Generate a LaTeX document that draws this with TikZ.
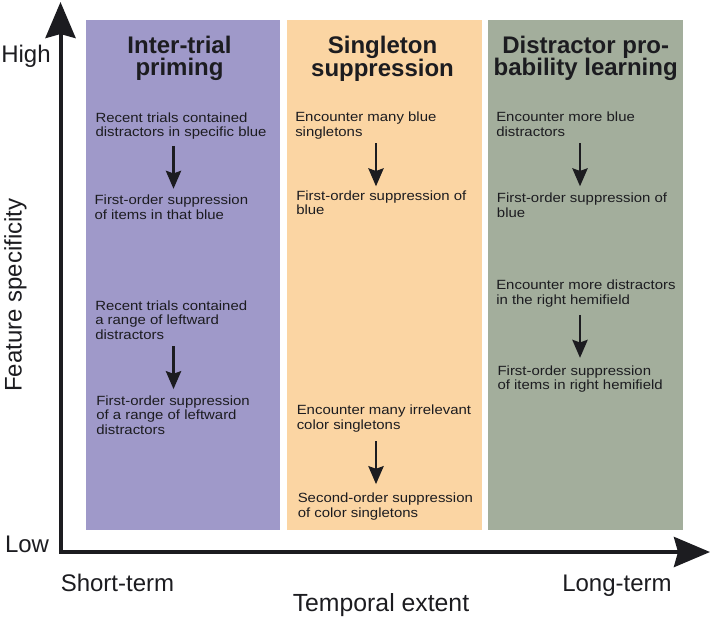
\documentclass[tikz,border=0pt]{standalone}
\usepackage{fontspec}
\setmainfont{Liberation Sans}
\newfontfamily\bodyfont[FakeStretch=1.12]{Liberation Sans}
\usetikzlibrary{calc, arrows.meta}

\definecolor{primcol}{RGB}{159,153,201}
\definecolor{singcol}{RGB}{251,213,163}
\definecolor{probcol}{RGB}{163,174,156}
\definecolor{inkcol}{RGB}{28,28,32}

\tikzset{
    body/.style={anchor=north west, inner sep=0pt, align=left, text=inkcol,
        font=\bodyfont\fontsize{10}{10.9}\selectfont},
    paneltitle/.style={anchor=north, inner sep=0pt, align=center, text=inkcol,
        font=\fontsize{18}{16.8}\selectfont\bfseries},
    axislabel/.style={inner sep=0pt, text=inkcol, font=\fontsize{18}{18}\selectfont},
    flow/.style={-{Stealth[length=13.5pt,width=11.5pt,inset=2pt]}, line width=1.65pt, inkcol},
    axis/.style={{Stealth[length=27pt,width=22.5pt,inset=3pt]}-{Stealth[length=27pt,width=22.5pt,inset=3pt]},
        line width=3pt, inkcol},
}

\begin{document}
\begin{tikzpicture}[x=0.75pt,y=-0.75pt]
        \useasboundingbox (0,0) rectangle (712,618);
        % panels
        \fill[primcol] (86,20) rectangle (280,530);
        \fill[singcol] (287,20) rectangle (482,530);
        \fill[probcol] (488,20) rectangle (683,530);
        % axes
        \coordinate (ytop) at (60.5,2);
        \coordinate (xend) at (710,552);
        \draw[axis] (ytop) |- (xend);
        \node[axislabel, anchor=base west] (high) at (1,62.3) {High};
        \node[axislabel, anchor=base east] (low) at (49.3,552.3) {Low};
        \node[axislabel, anchor=base west, rotate=90] (fspec) at (21.7,392) {Feature specificity};
        \node[axislabel, anchor=base west] (short) at (60.5,591.7) {Short-term};
        \node[axislabel, anchor=base west] (long) at (562,591.7) {Long-term};
        \node[axislabel, anchor=base west, font=\fontsize{18.6}{18.6}\selectfont] (textent) at (292.5,611.7) {Temporal extent};
        % titles
        \node[paneltitle] (tprim) at (179.5,35.5) {Inter-trial\\priming};
        \node[paneltitle] (tsing) at (382.5,35.5) {Singleton\\suppression};
        \node[paneltitle] (tprob) at (585.7,35.5) {Distractor pro-\\bability learning};
        % inter-trial priming
        \node[body] (primA) at (95.3,112.2) {Recent trials contained\\distractors in specific blue};
        \node[body] (primB) at (94.3,194.8) {First-order suppression\\of items in that blue};
        \node[body] (primC) at (95,300.4) {Recent trials contained\\a range of leftward\\distractors};
        \node[body] (primD) at (96,395.4) {First-order suppression\\of a range of leftward\\distractors};
        % singleton suppression
        \node[body] (singA) at (295,111.7) {Encounter many blue\\singletons};
        \node[body] (singB) at (296,190.4) {First-order suppression of\\blue};
        \node[body] (singC) at (296.5,404.7) {Encounter many irrelevant\\color singletons};
        \node[body] (singD) at (297.5,493) {Second-order suppression\\of color singletons};
        % distractor probability learning
        \node[body] (probA) at (496,111.7) {Encounter more blue\\distractors};
        \node[body] (probB) at (496.7,193) {First-order suppression of\\blue};
        \node[body] (probC) at (496,279.7) {Encounter more distractors\\in the right hemifield};
        \node[body] (probD) at (497.3,365.4) {First-order suppression\\of items in right hemifield};
        % arrows
        \coordinate (colprim) at (173.5,0);
        \coordinate (colsing) at (376,0);
        \coordinate (colprob) at (580,0);
        \foreach \from/\to/\col in {primA/primB/colprim, primC/primD/colprim,
                singA/singB/colsing, singC/singD/colsing,
                probA/probB/colprob, probC/probD/colprob}
        {
            \path (\from.south) -- coordinate[midway] (gap) (\to.north);
            \draw[flow] ($(\col |- gap)+(0,-21.5)$) -- ($(\col |- gap)+(0,21.5)$);
        }
\end{tikzpicture}
\end{document}
